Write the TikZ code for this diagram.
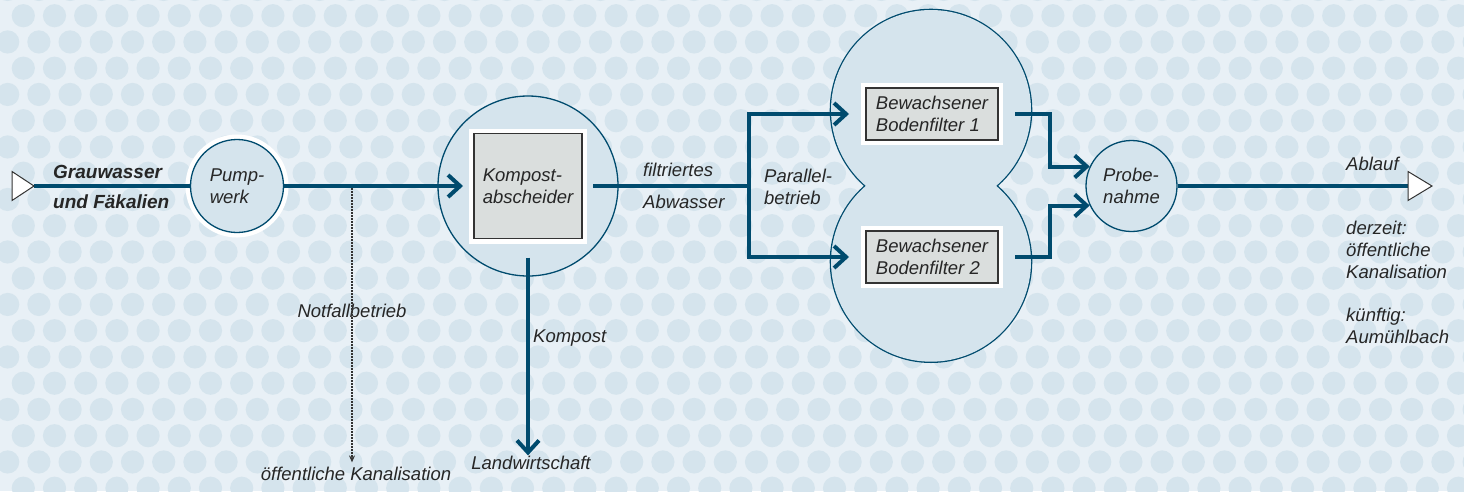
\documentclass[tikz,border=0pt]{standalone}
\usepackage{fontspec}
\setmainfont{Liberation Sans}
\usetikzlibrary{arrows.meta,calc}
\definecolor{bgcol}{HTML}{E8F0F6}
\definecolor{dotcol}{HTML}{D5E4ED}
\definecolor{linecol}{HTML}{004B6E}
\definecolor{boxcol}{HTML}{DADEDD}
\definecolor{boxedge}{HTML}{333333}
\definecolor{txtcol}{HTML}{262626}
\tikzset{
  flow/.style={
    draw=linecol,
    line width=4pt
  },
  flowarrow/.style={
    flow,
    -{Straight Barb[length=12pt,width=22pt]}
  },
  spill/.style={
    draw=boxedge,
    line width=1.2pt,
    dash pattern=on 1.5pt off 1.5pt,
    -{Stealth[length=7pt,width=6pt]}
  },
  lbl/.style={
    inner sep=0pt,
    align=left,
    text=txtcol,
    font=\fontsize{18.5}{21.7}\selectfont\itshape
  },
  disc/.style={
    lbl,
    shape=circle,
    draw=linecol,
    line width=1.3pt,
    fill=dotcol
  },
  ringdisc/.style={
    disc,
    preaction={draw=white,line width=10pt}
  },
  unit/.style={
    lbl,
    draw=boxedge,
    line width=1.3pt,
    fill=boxcol,
    preaction={draw=white,line width=10pt}
  },
  valve/.style={
    draw=boxedge,
    fill=white,
    line width=1pt
  }
}
\begin{document}
\begin{tikzpicture}[x=1pt,y=-1pt]
  \useasboundingbox (0,0) rectangle (1464,491);
  \fill[bgcol] (0,0) rectangle (1464,491);
  % dotted background
  \foreach \j in {-1,...,18}{
    \pgfmathsetmacro{\off}{mod(\j+2,2)*15.6}
    \foreach \k in {0,...,47}
      \fill[dotcol] ({23.3+31.2*\k-\off},{15.7+26.25*\j}) circle (11.6);
  }
  % stations
  \node[ringdisc,minimum size=93pt] (pump) at (237,186) {Pump-\\werk};
  \node[disc,minimum size=180pt] (sep) at (528,186) {};
  \node[disc,line width=2.6pt,minimum size=200pt] (bed1) at (931,110) {};
  \node[disc,line width=2.6pt,minimum size=200pt] (bed2) at (931,261.7) {};
  \fill[dotcol] (bed1.center) circle (100) (bed2.center) circle (100);
  \node[disc,minimum size=91pt] (probe) at (1131.5,186) {Probe-\\nahme};
  \node[unit,minimum width=108pt,minimum height=105pt,outer sep=11pt] (kompost) at (528,186) {Kompost-\\abscheider};
  \node[unit,minimum width=132pt,minimum height=52pt,outer sep=17pt] (bf1) at (932,114) {Bewachsener\\Bodenfilter 1};
  \node[unit,minimum width=132pt,minimum height=52pt,outer sep=17pt] (bf2) at (932,257) {Bewachsener\\Bodenfilter 2};
  % labels (base = last line)
  \node[lbl,font=\fontsize{19}{30}\selectfont\bfseries\itshape,anchor=base west] (inflow) at (53,208) {Grauwasser\\und Fäkalien};
  \node[lbl,font=\fontsize{18.5}{31.3}\selectfont\itshape,anchor=base west] (filtrat) at (643,208) {filtriertes\\Abwasser};
  \node[lbl,anchor=base west] (parallel) at (764,204) {Parallel-\\betrieb};
  \node[lbl,anchor=base] (notfall) at (352,317) {Notfallbetrieb};
  \node[lbl,anchor=base] (kanal) at (356,480) {öffentliche Kanalisation};
  \node[lbl,anchor=base west] (kompostlbl) at (533,342) {Kompost};
  \node[lbl,anchor=base] (agri) at (531,469) {Landwirtschaft};
  \node[lbl,anchor=base west] (ablauf) at (1346,170) {Ablauf};
  \node[lbl,anchor=base west] (ziel) at (1346,343.3) {derzeit:\\öffentliche\\Kanalisation\\[21.7pt]künftig:\\Aumühlbach};
  % connectors
  \coordinate (src) at (34,186);
  \coordinate (tap) at (352,188);
  \coordinate (split) at (749,186);
  \coordinate (drain) at (1408,186);
  \draw[flow] (src) -- (pump.west);
  \draw[flowarrow] (pump.east) -- (kompost.west);
  \draw[spill,shorten >=4pt] (tap) -- (tap |- kanal.north);
  \draw[flowarrow,shorten <=8pt] (kompost.south) -- (kompost.south |- agri.north);
  \draw[flow] (kompost.east) -- (split);
  \draw[flowarrow] (split) |- (bf1.west);
  \draw[flowarrow] (split) |- (bf2.west);
  \draw[flowarrow] (bf1.east) -- ++(35,0) |- (probe.155);
  \draw[flowarrow] (bf2.east) -- ++(35,0) |- (probe.205);
  \draw[flow] (probe.east) -- (drain);
  \draw[valve] (src) -- ++(-22,-14.5) -- ++(0,29) -- cycle;
  \draw[valve] (drain) -- ++(0,-14.5) -- ++(24,14.5) -- ++(-24,14.5) -- cycle;
\end{tikzpicture}
\end{document}
